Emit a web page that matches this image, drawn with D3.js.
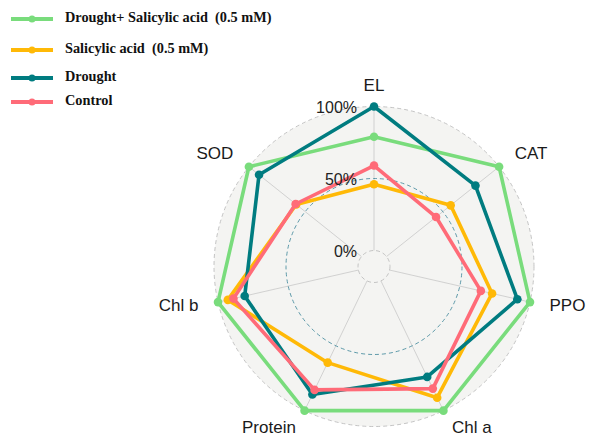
<!DOCTYPE html>
<html><head><meta charset="utf-8">
<script src="https://cdn.jsdelivr.net/npm/d3@7"></script>
<style>body{margin:0;background:#fff}svg{display:block}</style>
</head><body>
<svg id="c" width="592" height="441"></svg>
<script>
const axesNames = ["EL","CAT","PPO","Chl a","Protein","Chl b","SOD"];
const seriesNames = ["Drought+ Salicylic acid  (0.5 mM)","Salicylic acid  (0.5 mM)","Drought","Control"];
const seriesColors = ["#79DC7C","#FFB907","#007C80","#FF6B78"];
const droughtSA = [0.79,1.0,1.0,1.0,1.0,1.0,1.0];
const salicylic = [0.46,0.57,0.73,0.90,0.63,0.93,0.58];
const drought = [1.0,0.79,0.91,0.74,0.875,0.81,0.91];
const control = [0.59,0.44,0.65,0.83,0.84,0.89,0.585];
const gridTicks = [0,0.5,1];
const gridLabels = ["0%","50%","100%"];
const seriesValues = [droughtSA, salicylic, drought, control];

const svg = d3.select("#c");
const cx = 374, cy = 266.5, R = 160;
const r = d3.scaleLinear().domain([-1/9, 1]).range([0, R]);
const ang = d3.scalePoint().domain(axesNames).range([0, 2*Math.PI*(6/7)]);
const pt = (name, v) => { const a = ang(name); return [cx + r(v)*Math.sin(a), cy - r(v)*Math.cos(a)]; };

const g = svg.append("g");
g.append("circle").attr("cx",cx).attr("cy",cy).attr("r",r(1)).attr("fill","#F4F4F2");
axesNames.forEach(n => {
  const p0 = pt(n,0), p1 = pt(n,1);
  g.append("line").attr("x1",p0[0]).attr("y1",p0[1]).attr("x2",p1[0]).attr("y2",p1[1])
   .attr("stroke","#C8C8C8").attr("stroke-width",0.8);
});
gridTicks.forEach((t,i) => {
  g.append("circle").attr("cx",cx).attr("cy",cy).attr("r",r(t)).attr("fill","none")
   .attr("stroke", t===0.5 ? "#4C8FA0" : "#BDBDBD").attr("stroke-width",0.9)
   .attr("stroke-dasharray","4,3");
});
const line = d3.line();
[0,1,2,3].forEach(si => {
  const pts = axesNames.map((n,i) => pt(n, seriesValues[si][i]));
  g.append("path").attr("d", line(pts) + "Z").attr("fill","none")
    .attr("stroke",seriesColors[si]).attr("stroke-width",3.6).attr("stroke-linejoin","round");
  g.selectAll(null).data(pts).enter().append("circle")
    .attr("cx",d=>d[0]).attr("cy",d=>d[1]).attr("r",4.3).attr("fill",seriesColors[si]);
});
gridTicks.forEach((t,i) => {
  g.append("text").attr("x",cx-17).attr("y",cy - r(t) + 2).attr("text-anchor","end")
   .attr("dominant-baseline","middle").attr("font-family","Liberation Sans, Arial, sans-serif")
   .attr("font-size",16).attr("fill","#222").text(gridLabels[i]);
});
axesNames.forEach(n => {
  const a = ang(n), rr = 180;
  const x = cx + rr*Math.sin(a), y = cy - rr*Math.cos(a);
  const s = Math.sin(a);
  g.append("text").attr("x",x).attr("y",y).attr("dominant-baseline","middle")
   .attr("text-anchor", Math.abs(s)<0.01 ? "middle" : (s>0 ? "start" : "end"))
   .attr("font-family","Liberation Sans, Arial, sans-serif").attr("font-size",17)
   .attr("fill","#1a1a1a").text(n);
});
const legY = [19,50,78,102];
seriesNames.forEach((n,i) => {
  const lg = svg.append("g");
  lg.append("line").attr("x1",11).attr("x2",53).attr("y1",legY[i]).attr("y2",legY[i])
    .attr("stroke",seriesColors[i]).attr("stroke-width",4);
  lg.append("circle").attr("cx",32).attr("cy",legY[i]).attr("r",3.5).attr("fill",seriesColors[i]);
  lg.append("text").attr("x",65).attr("y",legY[i]).attr("dominant-baseline","middle")
    .attr("font-family","Liberation Serif, Times New Roman, serif").attr("font-weight","bold")
    .attr("font-size",14.3).attr("fill","#111").style("white-space","pre").text(n);
});
</script>
</body></html>
